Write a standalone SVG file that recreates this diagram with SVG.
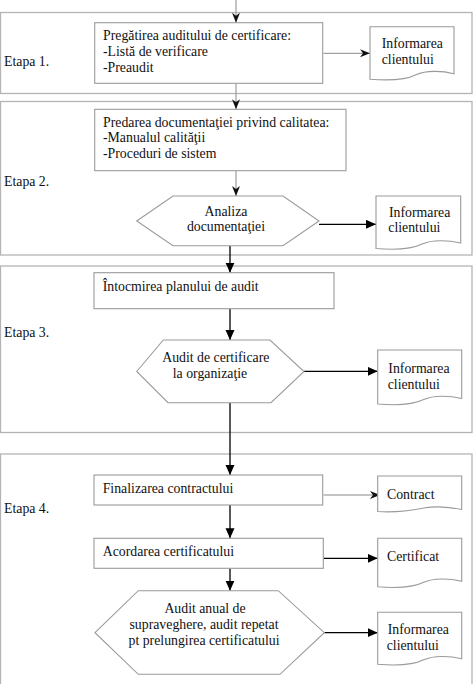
<svg xmlns="http://www.w3.org/2000/svg" width="474" height="684" viewBox="0 0 474 684">
<defs>
<style>
.band{fill:none;stroke:#b4b4b4;stroke-width:1.3}
.box{fill:#fff;stroke:#9a9a9a;stroke-width:1.1}
.doc{fill:#fff;stroke:#9a9a9a;stroke-width:1.1}
.t{font-family:"Liberation Serif","Times New Roman",serif;font-size:13.8px;fill:#111}
.m{text-anchor:middle}
.thin{stroke:#8a8a8a;stroke-width:1;fill:none}
.bold{stroke:#000;stroke-width:1.3;fill:none}
</style>
<marker id="st" markerUnits="userSpaceOnUse" markerWidth="11" markerHeight="9" refX="10" refY="4" orient="auto">
<path d="M0,0 L10,4 L0,8 L3,4 Z" fill="#111"/>
</marker>
<marker id="tr" markerUnits="userSpaceOnUse" markerWidth="11" markerHeight="10" refX="10" refY="4.5" orient="auto">
<path d="M0,0 L10,4.5 L0,9 Z" fill="#000"/>
</marker>
</defs>
<rect width="474" height="684" fill="#fff"/>

<g id="bands">
<rect class="band" x="0.5" y="12.5" width="471.5" height="81"/>
<rect class="band" x="0.5" y="101.5" width="471.5" height="153.5"/>
<rect class="band" x="0.5" y="266" width="471.5" height="166.5"/>
<rect class="band" x="0.5" y="454" width="471.5" height="236"/>
</g>

<g id="etapa-labels">
<text class="t" x="4" y="66">Etapa 1.</text>
<text class="t" x="4" y="186">Etapa 2.</text>
<text class="t" x="4" y="336.5">Etapa 3.</text>
<text class="t" x="4" y="513.3">Etapa 4.</text>
</g>

<g id="connectors">
<line class="thin" x1="236" y1="0" x2="236" y2="22.7" marker-end="url(#st)"/>
<line class="thin" x1="323.5" y1="53.3" x2="370" y2="53.3" marker-end="url(#st)"/>
<line class="thin" x1="236" y1="83.3" x2="236" y2="109.3" marker-end="url(#st)"/>
<line class="thin" x1="236" y1="170.7" x2="236" y2="196" marker-end="url(#st)"/>
<line class="bold" x1="319" y1="224.3" x2="376" y2="224.3" marker-end="url(#tr)"/>
<line class="bold" x1="230" y1="245.7" x2="230" y2="272.7" marker-end="url(#tr)"/>
<line class="bold" x1="230" y1="308.7" x2="230" y2="340" marker-end="url(#tr)"/>
<line class="bold" x1="304" y1="371.3" x2="377.7" y2="371.3" marker-end="url(#tr)"/>
<line class="bold" x1="230" y1="402.7" x2="230" y2="475" marker-end="url(#tr)"/>
<line class="thin" x1="323.5" y1="495" x2="380" y2="495" marker-end="url(#st)"/>
<line class="bold" x1="230" y1="505" x2="230" y2="538.3" marker-end="url(#tr)"/>
<line class="bold" x1="323.5" y1="558.3" x2="377.7" y2="558.3" marker-end="url(#tr)"/>
<line class="bold" x1="230" y1="568.3" x2="230" y2="590.7" marker-end="url(#tr)"/>
<line class="bold" x1="324.3" y1="632.7" x2="377.7" y2="632.7" marker-end="url(#tr)"/>
</g>

<g id="box1">
<rect class="box" x="94.7" y="22.7" width="228" height="60.6"/>
<text class="t" x="103" y="40">Pregătirea auditului de certificare:</text>
<text class="t" x="103" y="56">-Listă de verificare</text>
<text class="t" x="103" y="72">-Preaudit</text>
</g>
<g id="doc1">
<path class="doc" transform="translate(370,26.7)" d="M0,0 H84 V47 C72,44 56,43.5 46,48 C36,53 18,54 0,52.5 Z"/>
<text class="t" x="381.7" y="47.7">Informarea</text>
<text class="t" x="381.7" y="64.3">clientului</text>
</g>

<g id="box2">
<rect class="box" x="94.7" y="109.3" width="251.3" height="61.4"/>
<text class="t" x="103" y="126.5">Predarea documentaţiei privind calitatea:</text>
<text class="t" x="103" y="142">-Manualul calităţii</text>
<text class="t" x="103" y="157.5">-Proceduri de sistem</text>
</g>
<g id="hex1">
<polygon class="box" points="136.7,221 173,196 283,196 319,221 283,245.7 173,245.7"/>
<text class="t m" x="226" y="216">Analiza</text>
<text class="t m" x="226" y="230.7">documentaţiei</text>
</g>
<g id="doc2">
<path class="doc" transform="translate(376,196)" d="M0,0 H84.7 V47 C72,44 56,43.5 46,48 C36,53 18,54 0,52.5 Z"/>
<text class="t" x="389" y="216.7">Informarea</text>
<text class="t" x="388.3" y="232.3">clientului</text>
</g>

<g id="box3">
<rect class="box" x="94" y="272.7" width="240" height="36"/>
<text class="t" x="102.7" y="290.7">Întocmirea planului de audit</text>
</g>
<g id="hex2">
<polygon class="box" points="136.7,371.5 163.3,340 270,340 304,371.5 271,402.7 168,402.7"/>
<text class="t m" x="215.8" y="362.3">Audit de certificare</text>
<text class="t m" x="210" y="378.3">la organizaţie</text>
</g>
<g id="doc3">
<path class="doc" transform="translate(377.7,350)" d="M0,0 H84 V48.5 C72,45.5 56,45 46,49.5 C36,54.5 18,55.5 0,54 Z"/>
<text class="t" x="388.3" y="373.3">Informarea</text>
<text class="t" x="387.7" y="389">clientului</text>
</g>

<g id="box4">
<rect class="box" x="94" y="475" width="228.7" height="30"/>
<text class="t" x="102.7" y="492.7">Finalizarea contractului</text>
</g>
<g id="doc4">
<path class="doc" transform="translate(377.7,476)" d="M0,0 H84 V33.5 C72,31 58,30 46,32 C36,34 22,37 0,35.5 Z"/>
<text class="t" x="387" y="498.7">Contract</text>
</g>

<g id="box5">
<rect class="box" x="94" y="538.3" width="229.3" height="30"/>
<text class="t" x="102.7" y="555.7">Acordarea certificatului</text>
</g>
<g id="doc5">
<path class="doc" transform="translate(377.7,538.3)" d="M0,0 H84 V43 C72,40 56,39.5 46,44 C36,49 18,50 0,48.5 Z"/>
<text class="t" x="387" y="561.3">Certificat</text>
</g>

<g id="hex3">
<polygon class="box" points="95,632.7 138.3,590.7 278.3,590.7 324.3,632.7 280,674.3 138.3,674.3"/>
<text class="t m" x="205" y="613.3">Audit anual de</text>
<text class="t m" x="204" y="629">supraveghere, audit repetat</text>
<text class="t m" x="204" y="645">pt prelungirea certificatului</text>
</g>
<g id="doc6">
<path class="doc" transform="translate(377.7,612.3)" d="M0,0 H84 V46.5 C72,43.5 56,43 46,47.5 C36,52.5 18,53.5 0,52 Z"/>
<text class="t" x="387.7" y="634.3">Informarea</text>
<text class="t" x="386.7" y="650">clientului</text>
</g>
</svg>
